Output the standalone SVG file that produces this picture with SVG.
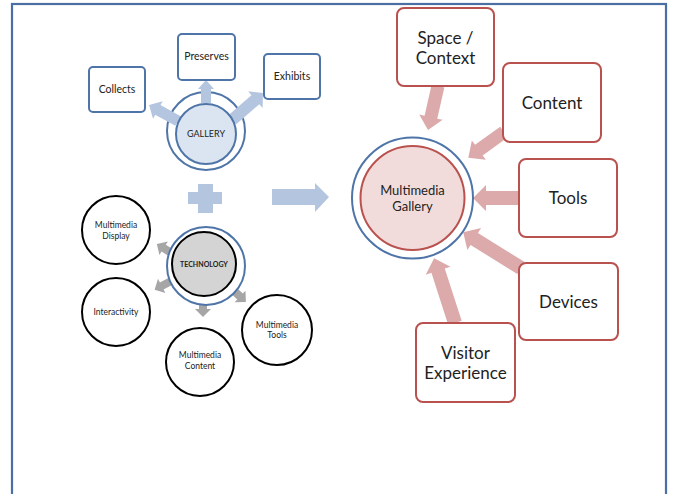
<svg xmlns="http://www.w3.org/2000/svg" width="674" height="494" viewBox="0 0 674 494">
<style>
text{font-family:Lato,"Liberation Sans",sans-serif;fill:#222;text-anchor:middle;dominant-baseline:central}
.bbox{fill:#fff;stroke:#4f75a8;stroke-width:2}
.rbox{fill:#fff;stroke:#b9524f;stroke-width:2}
.barr{fill:#b3c5df}
.parr{fill:#dcaaaa}
.garr{fill:#a6a6a6}
.bc{fill:#fff;stroke:#4f75a8;stroke-width:2}
.kc{fill:#fff;stroke:#000;stroke-width:2}
</style>
<rect x="12" y="4" width="654" height="500" fill="#fff" stroke="#4a6fa5" stroke-width="2.2"/>

<g id="connectors">
  <!-- blue big arrow and plus -->
  <polygon class="barr" points="272,189 315,189 315,183 329,197 315,212 315,205 272,205"/>
  <path class="barr" d="M198,184h15v8h9v12h-9v9h-15v-9h-10v-12h10z"/>
</g>

<g id="gallery">
  <circle class="bc" cx="206" cy="131" r="39"/>
  <g id="gallery-arrows">
    <polygon class="barr" transform="translate(206,103) rotate(-90)" points="0,-5 14,-5 14,-8 23,0 14,8 14,5 0,5"/>
    <polygon class="barr" transform="translate(178,121) rotate(208.9)" points="0,-5.5 23,-5.5 23,-10 33,0 23,10 23,5.5 0,5.5"/>
    <polygon class="barr" transform="translate(232,120) rotate(-41)" points="0,-6 31,-6 31,-11 41,0 31,11 31,6 0,6"/>
  </g>
  <circle cx="206" cy="134" r="30" fill="#dbe5f1" stroke="#4f75a8" stroke-width="2"/>
  <text x="206" y="133" font-size="9">GALLERY</text>
</g>

<g id="collects"><rect class="bbox" x="89" y="67" width="56" height="45" rx="4"/><text x="117" y="89" font-size="10.5">Collects</text></g>
<g id="preserves"><rect class="bbox" x="178" y="34" width="57" height="46" rx="4"/><text x="206.5" y="56" font-size="10.5">Preserves</text></g>
<g id="exhibits"><rect class="bbox" x="264" y="54" width="56" height="45" rx="4"/><text x="292" y="76" font-size="10.5">Exhibits</text></g>

<g id="technology">
  <g id="tech-arrows">
    <polygon class="garr" transform="translate(173,254) rotate(212)" points="0,-4 11,-4 11,-8 19,0 11,8 11,4 0,4"/>
    <polygon class="garr" transform="translate(175,279) rotate(152.4)" points="0,-4 15,-4 15,-8 23,0 15,8 15,4 0,4"/>
    <polygon class="garr" transform="translate(203,298) rotate(90)" points="0,-4 11,-4 11,-8 19,0 11,8 11,4 0,4"/>
    <polygon class="garr" transform="translate(232,289) rotate(42.9)" points="0,-4 11,-4 11,-8 19,0 11,8 11,4 0,4"/>
  </g>
  <circle class="bc" cx="206" cy="266" r="39"/>
  <circle cx="204" cy="264" r="32" fill="#d4d4d4" stroke="#000" stroke-width="2"/>
  <text x="204" y="264" font-size="7" font-weight="bold">TECHNOLOGY</text>
</g>

<g id="mm-display"><circle class="kc" cx="116" cy="230" r="34"/><text x="116" y="225" font-size="8.5">Multimedia</text><text x="116" y="236" font-size="8.5">Display</text></g>
<g id="interactivity"><circle class="kc" cx="116" cy="312" r="34"/><text x="116" y="312" font-size="8.5">Interactivity</text></g>
<g id="mm-content"><circle class="kc" cx="200" cy="362" r="34"/><text x="200" y="355" font-size="8.5">Multimedia</text><text x="200" y="366" font-size="8.5">Content</text></g>
<g id="mm-tools"><circle class="kc" cx="277" cy="330" r="35"/><text x="277" y="325" font-size="8.5">Multimedia</text><text x="277" y="335" font-size="8.5">Tools</text></g>

<g id="mm-gallery">
  <g id="mm-arrows">
    <polygon class="parr" transform="translate(438,86) rotate(102.8)" points="0,-6.5 32,-6.5 32,-12 45,0 32,12 32,6.5 0,6.5"/>
    <polygon class="parr" transform="translate(504,132) rotate(144.2)" points="0,-6.5 31,-6.5 31,-12 44,0 31,12 31,6.5 0,6.5"/>
    <polygon class="parr" transform="translate(519,198) rotate(180)" points="0,-7 33,-7 33,-13 46,0 33,13 33,7 0,7"/>
    <polygon class="parr" transform="translate(521,268) rotate(211.8)" points="0,-7 55,-7 55,-13 68,0 55,13 55,7 0,7"/>
    <polygon class="parr" transform="translate(455,323) rotate(252.1)" points="0,-7 55,-7 55,-13 68,0 55,13 55,7 0,7"/>
  </g>
  <circle cx="412.5" cy="198" r="60.5" fill="#fff" stroke="#4f75a8" stroke-width="2"/>
  <circle cx="412.5" cy="198" r="52" fill="#f2dcdb" stroke="#b9524f" stroke-width="2"/>
  <text x="412.5" y="190" font-size="13">Multimedia</text>
  <text x="412.5" y="206" font-size="13">Gallery</text>
</g>

<g id="space-context"><rect class="rbox" x="397" y="8" width="97" height="78" rx="7"/><text x="445.5" y="37" font-size="17">Space /</text><text x="445.5" y="57" font-size="17">Context</text></g>
<g id="content"><rect class="rbox" x="503" y="63" width="98" height="79" rx="7"/><text x="552" y="102" font-size="17">Content</text></g>
<g id="tools"><rect class="rbox" x="519" y="159" width="98" height="78" rx="7"/><text x="568" y="197" font-size="17">Tools</text></g>
<g id="devices"><rect class="rbox" x="519" y="263" width="99" height="77" rx="7"/><text x="568.5" y="301" font-size="17">Devices</text></g>
<g id="visitor"><rect class="rbox" x="416" y="323" width="99" height="79" rx="7"/><text x="465.5" y="352" font-size="17">Visitor</text><text x="465.5" y="372" font-size="17">Experience</text></g>
</svg>
